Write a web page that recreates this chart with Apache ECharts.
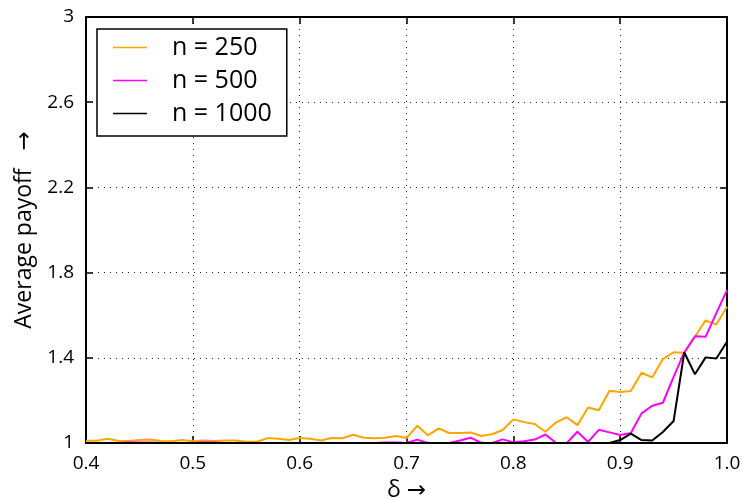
<!DOCTYPE html>
<html>
<head>
<meta charset="utf-8">
<script src="https://cdn.jsdelivr.net/npm/echarts@6/dist/echarts.min.js"></script>
<style>html,body{margin:0;padding:0;background:#fff}#c{width:742px;height:500px}</style>
</head>
<body>
<div id="c"></div>
<script>
const deltas = [0.40,0.41,0.42,0.43,0.44,0.45,0.46,0.47,0.48,0.49,
  0.50,0.51,0.52,0.53,0.54,0.55,0.56,0.57,0.58,0.59,
  0.60,0.61,0.62,0.63,0.64,0.65,0.66,0.67,0.68,0.69,
  0.70,0.71,0.72,0.73,0.74,0.75,0.76,0.77,0.78,0.79,
  0.80,0.81,0.82,0.83,0.84,0.85,0.86,0.87,0.88,0.89,
  0.90,0.91,0.92,0.93,0.94,0.95,0.96,0.97,0.98,0.99,1.00];
const n250 = [1.011,1.011,1.020,1.011,1.009,1.014,1.016,1.009,1.008,1.014,
  1.008,1.012,1.009,1.012,1.012,1.006,1.006,1.023,1.020,1.014,
  1.023,1.020,1.012,1.023,1.022,1.039,1.025,1.022,1.025,1.033,
  1.023,1.081,1.036,1.069,1.047,1.047,1.049,1.033,1.041,1.061,
  1.111,1.098,1.089,1.053,1.097,1.121,1.084,1.167,1.154,1.245,
  1.239,1.244,1.330,1.308,1.394,1.426,1.424,1.499,1.576,1.556,1.640];
const n500 = [1.000,1.000,1.000,1.000,1.002,1.002,1.002,1.000,1.000,1.000,
  1.000,1.003,1.002,1.000,1.000,1.000,1.000,1.000,1.000,1.000,
  1.000,1.000,1.000,1.000,1.000,1.000,1.000,1.000,1.002,1.002,
  1.000,1.016,1.000,1.000,1.000,1.012,1.025,1.000,1.000,1.017,
  1.003,1.008,1.016,1.040,1.000,1.000,1.053,1.005,1.062,1.050,
  1.038,1.047,1.139,1.175,1.189,1.310,1.425,1.501,1.499,1.610,1.718];
const n1000 = [1.000,1.000,1.000,1.000,1.000,1.000,1.000,1.000,1.000,1.000,
  1.000,1.000,1.000,1.000,1.000,1.000,1.000,1.000,1.000,1.000,
  1.000,1.000,1.000,1.000,1.000,1.000,1.000,1.000,1.000,1.000,
  1.000,1.000,1.000,1.000,1.000,1.000,1.000,1.000,1.000,1.000,
  1.000,1.000,1.000,1.000,1.000,1.000,1.000,1.000,1.000,1.000,
  1.014,1.044,1.014,1.012,1.052,1.103,1.425,1.323,1.402,1.397,1.475];
const seriesNames = ['n = 250','n = 500','n = 1000'];
const seriesColors = ['#FFA500','#FF00FF','#000000'];
const xTitle = 'δ →';
const yTitle = 'Average payoff   →';

const FONT = 'Open Sans, DejaVu Sans, sans-serif';
const pair = arr => deltas.map((d,i)=>[d,arr[i]]);
const fmtY = v => String(Math.round(v*10)/10);
const splitLine = {show:true,lineStyle:{color:'#222',width:1,type:[1,5]}};
const axLine = {show:true,lineStyle:{color:'#000',width:2}};
const tickIn = {show:true,inside:true,length:7,lineStyle:{color:'#000',width:1.5}};

const chart = echarts.init(document.getElementById('c'));
chart.setOption({
  animation:false,
  backgroundColor:'#fff',
  grid:{left:86,right:15,top:17,bottom:57,containLabel:false,outerBoundsMode:'none'},
  legend:{
    orient:'vertical',left:97,top:29,
    padding:[6,15,10,16],
    backgroundColor:'#fff',borderColor:'#000',borderWidth:1.5,
    itemWidth:34,itemHeight:1.5,itemGap:8,icon:'rect',
    formatter:n=>'{g|}{t|'+n+'}',
    textStyle:{fontFamily:FONT,fontSize:25,color:'#000',lineHeight:25,
      rich:{g:{width:20},t:{fontFamily:FONT,fontSize:25,color:'#000',lineHeight:25}}},
    data:seriesNames.map(n=>({name:n}))
  },
  xAxis:[{
    type:'value',min:0.4,max:1.0,interval:0.1,
    axisLine:axLine,axisTick:tickIn,splitLine:splitLine,
    axisLabel:{fontFamily:FONT,fontSize:19,color:'#000',margin:11,formatter:v=>v.toFixed(1)},
    name:xTitle,nameLocation:'middle',nameGap:36,
    nameTextStyle:{fontFamily:FONT,fontSize:23,color:'#000'}
  },{
    type:'value',position:'top',min:0.4,max:1.0,interval:0.1,
    axisLine:axLine,axisTick:tickIn,splitLine:{show:false},axisLabel:{show:false}
  }],
  yAxis:[{
    type:'value',min:1,max:3,interval:0.4,
    axisLine:axLine,axisTick:tickIn,splitLine:splitLine,
    axisLabel:{fontFamily:FONT,fontSize:19,color:'#000',margin:12,formatter:fmtY},
    name:yTitle,nameLocation:'middle',nameGap:50,nameRotate:90,
    nameTextStyle:{fontFamily:FONT,fontSize:23,color:'#000'}
  },{
    type:'value',position:'right',min:1,max:3,interval:0.4,
    axisLine:axLine,axisTick:tickIn,splitLine:{show:false},axisLabel:{show:false}
  }],
  series:[n250,n500,n1000].map((arr,i)=>({
    name:seriesNames[i],type:'line',xAxisIndex:0,yAxisIndex:0,
    data:pair(arr),symbol:'none',showSymbol:false,
    lineStyle:{color:seriesColors[i],width:2},
    itemStyle:{color:seriesColors[i]},
    z:3+i
  }))
});
</script>
</body>
</html>
